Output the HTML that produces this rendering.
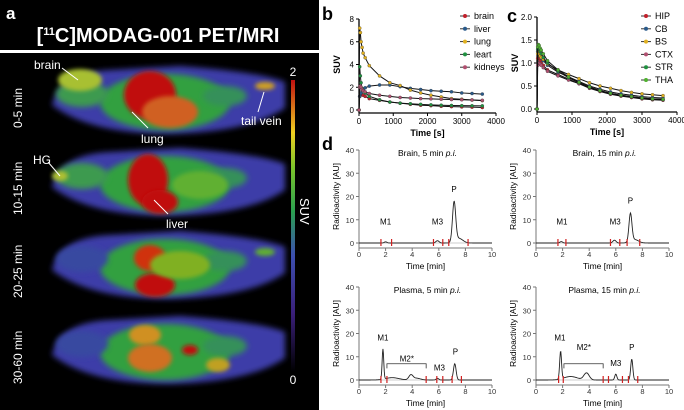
<!DOCTYPE html>
<html><head><meta charset="utf-8"><style>
body{margin:0;background:#fff;width:684px;height:410px;overflow:hidden;font-family:"Liberation Sans",sans-serif}
svg{position:absolute;left:0;top:0}
text{font-family:"Liberation Sans",sans-serif}
</style></head><body>
<svg id="s" width="684" height="410">
<defs>
<filter id="bl" x="-20%" y="-40%" width="140%" height="180%"><feGaussianBlur stdDeviation="3"/></filter>
<filter id="bl2" x="-20%" y="-40%" width="140%" height="180%"><feGaussianBlur stdDeviation="2"/></filter>
<linearGradient id="cb" x1="0" y1="1" x2="0" y2="0">
<stop offset="0" stop-color="#000"/><stop offset="0.2" stop-color="#3a1f7a"/><stop offset="0.4" stop-color="#3c4fb0"/><stop offset="0.55" stop-color="#2aa050"/><stop offset="0.7" stop-color="#7cc42a"/><stop offset="0.82" stop-color="#f0d020"/><stop offset="1" stop-color="#c01010"/></linearGradient>
</defs>
<g>
<rect x="0" y="0" width="319" height="50" fill="#000"/>
<rect x="0" y="53" width="319" height="357" fill="#000"/>
<text x="6" y="19" fill="#fff" font-size="17" font-weight="bold">a</text>
<text x="158" y="42" fill="#fff" font-size="20" font-weight="bold" text-anchor="middle">[<tspan font-size="11" dy="-7">11</tspan><tspan dy="7">C]MODAG-001 PET/MRI</tspan></text>
<g id="mice"></g>
<rect x="291" y="80" width="4" height="292" fill="url(#cb)"/>
<text x="293" y="76" fill="#fff" font-size="12" text-anchor="middle">2</text>
<text x="293" y="384" fill="#fff" font-size="12" text-anchor="middle">0</text>
<text x="0" y="0" fill="#fff" font-size="13" transform="translate(300,198) rotate(90)">SUV</text>
<g fill="#fff" font-size="12">
<text transform="translate(22,128) rotate(-90)">0-5 min</text>
<text transform="translate(22,215) rotate(-90)">10-15 min</text>
<text transform="translate(22,298) rotate(-90)">20-25 min</text>
<text transform="translate(22,384) rotate(-90)">30-60 min</text>
<text x="34" y="69">brain</text><text x="141" y="143">lung</text><text x="241" y="125">tail vein</text>
<text x="33" y="164">HG</text><text x="166" y="228">liver</text>
</g>
<g stroke="#fff" stroke-width="1"><line x1="62" y1="68" x2="78" y2="80"/><line x1="148" y1="128" x2="132" y2="112"/><line x1="258" y1="112" x2="264" y2="92"/><line x1="48" y1="162" x2="60" y2="176"/><line x1="168" y1="214" x2="154" y2="200"/></g>
</g>
<g id="pb"></g>
<g id="pc"></g>
<g id="pd"></g>
<text x="322" y="20" font-size="18" font-weight="bold">b</text>
<text x="507" y="22" font-size="18" font-weight="bold">c</text>
<text x="322" y="150" font-size="18" font-weight="bold">d</text>
</svg>
<script>
const NS='http://www.w3.org/2000/svg';
function el(p,t,a,txt){const e=document.createElementNS(NS,t);for(const k in a)e.setAttribute(k,a[k]);if(txt!==undefined)e.textContent=txt;p.appendChild(e);return e;}
const mice=document.getElementById('mice');
const rowsY=[100,182,265,350];
const hot=[[[150,95,26,24,'#c01010'],[80,80,22,11,'#a8c030'],[170,112,28,16,'#d06020'],[265,86,10,4,'#d0a020']],
[[148,180,20,26,'#c01010'],[160,202,18,12,'#c01010'],[60,176,8,5,'#b0c030'],[200,185,28,14,'#60b030']],
[[150,258,16,13,'#d03010'],[155,285,20,12,'#c01010'],[180,265,30,14,'#80b020'],[265,252,10,4,'#60b030']],
[[145,335,16,10,'#d09020'],[150,358,22,14,'#d07020'],[190,350,8,5,'#c01010'],[218,365,12,7,'#c0a020']]];
rowsY.forEach((y,i)=>{const g=el(mice,'g',{});


el(g,'path',{d:`M52 ${y+5} Q60 ${y-28} 110 ${y-30} L180 ${y-34} Q260 ${y-28} 285 ${y-18} L285 ${y+8} Q250 ${y+32} 170 ${y+34} Q90 ${y+34} 52 ${y+5} Z`,fill:'#3c3ea8',filter:'url(#bl)'});
el(g,'ellipse',{cx:165,cy:y+2,rx:65,ry:28,fill:'#30a040',filter:'url(#bl)'});
el(g,'ellipse',{cx:82,cy:y-6,rx:26,ry:13,fill:i<2?'#3c9a50':'#3848a0',filter:'url(#bl)'});
el(g,'ellipse',{cx:225,cy:y-4,rx:22,ry:10,fill:'#35905a',filter:'url(#bl)'});
hot[i].forEach(h=>el(g,'ellipse',{cx:h[0],cy:h[1],rx:h[2],ry:h[3],fill:h[4],filter:'url(#bl2)'}));});

const tB=[0,20,40,60,90,120,180,300,600,900,1200,1500,1800,2100,2400,2700,3000,3300,3600];
const bNames=['brain','liver','lung','leart','kidneys'];
const bCols=['#c0202a','#2a5a8a','#e0b020','#209040','#b05070'];
const brain=[0,1.2,1.35,1.4,1.35,1.3,1.2,1.0,0.85,0.7,0.6,0.5,0.42,0.38,0.33,0.3,0.27,0.25,0.22];
const liver=[0,1.2,1.4,1.5,1.7,1.8,1.95,2.1,2.2,2.2,2.05,1.9,1.8,1.7,1.65,1.6,1.5,1.45,1.4];
const lung=[0,7.2,6.8,6.0,5.5,5.0,4.6,3.9,3.0,2.4,2.15,1.75,1.5,1.3,1.15,1.0,0.95,0.88,0.82];
const heart=[0,3.8,3.0,2.4,1.9,1.7,1.5,1.2,0.9,0.7,0.6,0.55,0.5,0.45,0.42,0.4,0.38,0.37,0.36];
const kidneys=[0,2.0,2.1,2.0,1.8,1.7,1.6,1.45,1.3,1.2,1.1,1.05,1.0,0.98,0.95,0.92,0.9,0.88,0.85];
const bSeries=[brain,liver,lung,heart,kidneys];
const bXTicks=[0,1000,2000,3000,4000], bYTicks=[0,2,4,6,8];
const cNames=['HIP','CB','BS','CTX','STR','THA'];
const cCols=['#c0202a','#2a5a8a','#e0b020','#b05070','#209040','#50b030'];
const HIP=[0,1.1,1.15,1.1,1.05,1.0,0.95,0.85,0.75,0.65,0.55,0.45,0.38,0.32,0.28,0.25,0.22,0.2,0.19];
const CB=[0,1.25,1.25,1.2,1.15,1.1,1.05,0.95,0.8,0.7,0.6,0.5,0.43,0.37,0.33,0.3,0.27,0.25,0.24];
const BS=[0,1.2,1.25,1.2,1.15,1.12,1.08,0.98,0.85,0.75,0.66,0.57,0.5,0.45,0.4,0.36,0.33,0.31,0.29];
const CTX=[0,0.95,1.0,1.0,0.98,0.95,0.9,0.82,0.72,0.63,0.55,0.46,0.39,0.33,0.29,0.26,0.23,0.21,0.2];
const STR=[0,1.3,1.35,1.3,1.25,1.2,1.12,1.0,0.82,0.68,0.57,0.47,0.4,0.34,0.3,0.27,0.24,0.22,0.21];
const THA=[0,1.35,1.4,1.38,1.32,1.28,1.2,1.05,0.85,0.7,0.58,0.48,0.4,0.34,0.3,0.27,0.24,0.22,0.21];
const cSeries=[HIP,CB,BS,CTX,STR,THA];
const cYTicks=[0,0.5,1.0,1.5,2.0];
const dTitles=['Brain, 5 min ','Brain, 15 min ','Plasma, 5 min ','Plasma, 15 min '];
const peaksB5=[[2.0,0.5,0.1],[5.9,1.0,0.12],[7.15,17,0.12],[7.5,2,0.3]];
const peaksB15=[[1.9,0.6,0.1],[5.9,1.2,0.12],[7.1,12,0.11],[7.4,1.5,0.3]];
const peaksP5=[[1.8,13,0.06],[2.5,1.0,0.5],[3.9,2,0.15],[4.3,0.8,0.3],[5.9,0.7,0.1],[7.2,7,0.1]];
const peaksP15=[[1.85,12,0.07],[2.6,1.5,0.5],[3.8,3,0.2],[6.0,2.5,0.08],[7.2,9,0.08]];
const dPeaks=[peaksB5,peaksB15,peaksP5,peaksP15];
const dMarks=[[1.65,2.45,5.6,6.3,6.75,8.2],[1.65,2.25,5.6,6.3,6.85,7.8],[1.65,2.1,5.05,5.85,6.3,7.0,7.7],[1.7,2.05,5.05,5.45,6.5,6.95,7.65]];
const dLabels=[[['M1',2.0,8],['M3',5.9,8],['P',7.15,22]],[['M1',1.95,8],['M3',5.95,8],['P',7.1,17]],[['M1',1.8,17],['M2*',3.6,8],['M3',6.05,4],['P',7.25,11]],[['M1',1.8,17],['M2*',3.6,13],['M3',6.0,6],['P',7.2,13]]];
const dX=[0,2,4,6,8,10], dY=[0,10,20,30,40];

function lineChart(g,x0,x1,y0,y1,ymax,yt,series,cols,names,lx,ly,lab){
 const X=v=>x0+(x1-x0)*v/4000, Y=v=>y0-(y0-y1)*v/ymax;
 el(g,'line',{x1:x0,y1:y1,x2:x0,y2:y0+3,stroke:'#000','stroke-width':1.3});
 el(g,'line',{x1:x0,y1:y0+3,x2:x1,y2:y0+3,stroke:'#000','stroke-width':1.3});
 yt.forEach(v=>{el(g,'line',{x1:x0-3,y1:Y(v),x2:x0,y2:Y(v),stroke:'#000'});el(g,'text',{x:x0-5,y:Y(v)+3,'font-size':8,'text-anchor':'end'},lab(v));});
 bXTicks.forEach(v=>{el(g,'line',{x1:X(v),y1:y0+3,x2:X(v),y2:y0+6,stroke:'#000'});el(g,'text',{x:X(v),y:y0+14,'font-size':8,'text-anchor':'middle'},v);});
 el(g,'text',{x:(x0+x1)/2,y:y0+26,'font-size':9,'font-weight':'bold','text-anchor':'middle'},'Time [s]');
 el(g,'text',{transform:`translate(${x0-19},${(y0+y1)/2}) rotate(-90)`,'font-size':9,'font-weight':'bold','text-anchor':'middle'},'SUV');
 series.forEach((s,i)=>{const sg=el(g,'g',{});
  
  
  el(sg,'polyline',{points:s.map((v,j)=>X(tB[j])+','+Y(v)).join(' '),fill:'none',stroke:'#111','stroke-width':1});
  s.forEach((v,j)=>el(sg,'circle',{cx:X(tB[j]),cy:Y(v),r:1.6,fill:cols[i],stroke:'#333','stroke-width':0.3}));
  const le=el(g,'g',{});
  
  
  const yy=ly+i*12.8;
  el(le,'line',{x1:lx,y1:yy,x2:lx+10,y2:yy,stroke:'#333'});
  el(le,'circle',{cx:lx+5,cy:yy,r:2,fill:cols[i]});
  el(le,'text',{x:lx+14,y:yy+3,'font-size':9},names[i]);});
}
lineChart(document.getElementById('pb'),359,496,110,19,8,bYTicks,bSeries,bCols,bNames,460,16,v=>v);
lineChart(document.getElementById('pc'),537,677,109,17,2,cYTicks,cSeries,cCols,cNames,641,16,v=>v.toFixed(1));

const pd=document.getElementById('pd');
const panels=[[359,492,243,150],[536,669,243,150],[359,492,380,287],[536,669,380,287]];
panels.forEach((p,k)=>{const [x0,x1,y0,y1]=p;const g=el(pd,'g',{});
 
 
 const X=v=>x0+(x1-x0)*v/10, Y=v=>y0-(y0-y1)*v/40;
 el(g,'line',{x1:x0,y1:y1,x2:x0,y2:y0+5,stroke:'#777'});
 el(g,'line',{x1:x0,y1:y0+5,x2:x1,y2:y0+5,stroke:'#777'});
 dY.forEach(v=>{el(g,'line',{x1:x0-3,y1:Y(v),x2:x0,y2:Y(v),stroke:'#777'});el(g,'text',{x:x0-5,y:Y(v)+3,'font-size':7.5,'text-anchor':'end',fill:'#333'},v);});
 dX.forEach(v=>{el(g,'line',{x1:X(v),y1:y0+5,x2:X(v),y2:y0+8,stroke:'#777'});el(g,'text',{x:X(v),y:y0+14,'font-size':7.5,'text-anchor':'middle',fill:'#333'},v);});
 el(g,'text',{x:(x0+x1)/2,y:y0+26,'font-size':8.5,'text-anchor':'middle'},'Time [min]');
 el(g,'text',{transform:`translate(${x0-20},${(y0+y1)/2}) rotate(-90)`,'font-size':8.5,'text-anchor':'middle'},'Radioactivity [AU]');
 const t=el(g,'text',{x:(x0+x1)/2+2,y:y1+6,'font-size':8.5,'text-anchor':'middle'},dTitles[k]);
 el(t,'tspan',{'font-style':'italic'},'p.i.');
 el(g,'line',{x1:x0,y1:y0,x2:x1,y2:y0,stroke:'#bbb','stroke-width':0.8});
 const pts=[];for(let i=0;i<=300;i++){const tm=i/30;let v=0;dPeaks[k].forEach(q=>v+=q[1]*Math.exp(-((tm-q[0])**2)/(2*q[2]*q[2])));pts.push(X(tm)+','+Y(v));}
 el(g,'polyline',{points:pts.join(' '),fill:'none',stroke:'#222','stroke-width':0.9});
 dMarks[k].forEach(m=>el(g,'line',{x1:X(m),y1:y0-4,x2:X(m),y2:y0+3,stroke:'#d02020','stroke-width':1.2}));
 dLabels[k].forEach(l=>el(g,'text',{x:X(l[1]),y:Y(l[2]),'font-size':8,'text-anchor':'middle'},l[0]));
 if(k>=2){el(g,'polyline',{points:`${X(2.1)},${Y(5)} ${X(2.1)},${Y(7)} ${X(5.05)},${Y(7)} ${X(5.05)},${Y(5)}`,fill:'none',stroke:'#333','stroke-width':0.8});}
});
</script>
</body></html>
